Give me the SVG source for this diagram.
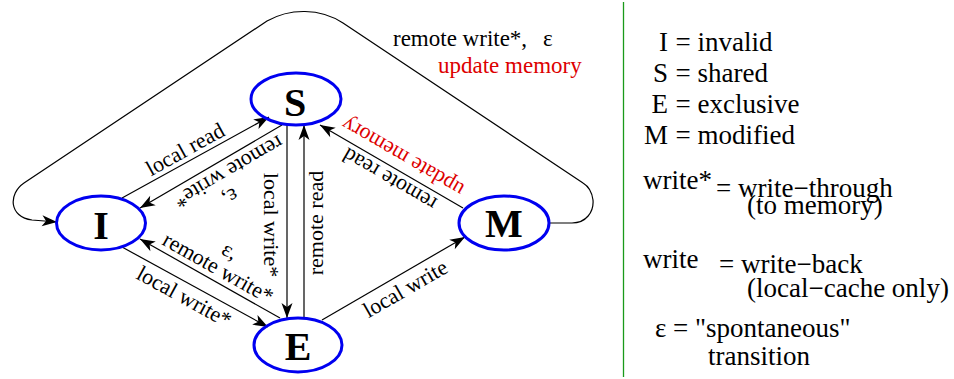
<svg xmlns="http://www.w3.org/2000/svg" width="954" height="379" viewBox="0 0 954 379">
  <style>
    text { font-family: "Liberation Serif", "Times New Roman", serif; fill: #000; }
    .state { fill: none; stroke: #0000f0; stroke-width: 3; }
    .name { font-size: 40px; font-weight: bold; text-anchor: middle; }
    .edge { fill: none; stroke: #000; stroke-width: 1.2; }
    .arr { marker-end: url(#head); }
    .lbl { font-size: 22px; text-anchor: middle; }
    .top { font-size: 23px; }
    .red { fill: #dd0000; }
    .key { font-size: 27px; }
    .keyL { font-size: 27px; text-anchor: end; }
  </style>
  <defs>
    <marker id="head" markerUnits="userSpaceOnUse" markerWidth="16" markerHeight="12" viewBox="-16 -6 16 12" refX="0" refY="0" orient="auto">
      <path d="M0,0 L-15,-5.5 L-11,0 L-15,5.5 Z" fill="#000"/>
    </marker>
  </defs>

  <rect width="954" height="379" fill="#fff"/>

  <!-- transitions -->
  <g id="connectors">
    <!-- M back to I around the outside -->
    <path class="edge arr" d="M549,223 L572,223 C586,223 594,212 593,200 C592,192 588,186 583,183 L343,23 C320,8 290,8 267,21 L24,183 C8,194 9,217 32,220 L57,222"/>
    <path class="edge arr" d="M122,198 L269,117"/>
    <path class="edge arr" d="M282,125 L140,208"/>
    <path class="edge arr" d="M287,125 L287,318"/>
    <path class="edge arr" d="M304,318 L304,125"/>
    <path class="edge arr" d="M122,247 L268,327"/>
    <path class="edge arr" d="M280,318 L140,239"/>
    <path class="edge arr" d="M322,320 L465,237"/>
    <path class="edge arr" d="M463,208 L320,125"/>
  </g>

  <!-- transition labels -->
  <g id="labels">
    <text class="top" x="393" y="46">remote write*,</text>
    <text class="top" x="543" y="46">ε</text>
    <text class="top red" x="438" y="73">update memory</text>

    <g transform="translate(191,160) rotate(-28.85)">
      <text class="lbl" x="0" y="-5">local read</text>
    </g>
    <g transform="translate(222,160.5) rotate(149.7)">
      <text class="lbl" x="11" y="-29">ε,</text>
      <text class="lbl" x="0" y="-6">remote write*</text>
    </g>
    <g transform="translate(211.6,279.4) rotate(29.4)">
      <text class="lbl" x="2" y="-27">ε,</text>
      <text class="lbl" x="0" y="-6">remote write*</text>
    </g>
    <g transform="translate(190.8,284.6) rotate(28.7)">
      <text class="lbl" x="0" y="21">local write*</text>
    </g>
    <g transform="translate(287,225) rotate(90)">
      <text class="lbl" x="0" y="23">local write*</text>
    </g>
    <g transform="translate(304,223) rotate(-90)">
      <text class="lbl" x="0" y="19">remote read</text>
    </g>
    <g transform="translate(397.9,275.9) rotate(-30.1)">
      <text class="lbl" x="0" y="22">local write</text>
    </g>
    <g transform="translate(395.7,169.1) rotate(-149.9)">
      <text class="lbl" x="0" y="-5">remote read</text>
      <text class="lbl red" x="0" y="21">update memory</text>
    </g>
  </g>

  <!-- states -->
  <g id="node-S">
    <ellipse class="state" cx="296" cy="99" rx="45" ry="26"/>
    <text class="name" x="295" y="116">S</text>
  </g>
  <g id="node-I">
    <ellipse class="state" cx="101" cy="223" rx="44.5" ry="27"/>
    <text class="name" x="101" y="239">I</text>
  </g>
  <g id="node-E">
    <ellipse class="state" cx="298" cy="345" rx="44" ry="27"/>
    <text class="name" x="298" y="360">E</text>
  </g>
  <g id="node-M">
    <ellipse class="state" cx="504" cy="223" rx="45" ry="27"/>
    <text class="name" x="504" y="237">M</text>
  </g>

  <!-- divider and key -->
  <line x1="623.5" y1="2" x2="623.5" y2="377" stroke="#1a9a1a" stroke-width="1.3"/>
  <g id="legend">
    <text class="keyL" x="668" y="51">I</text>
    <text class="key" x="675.5" y="51">= invalid</text>
    <text class="keyL" x="668" y="82">S</text>
    <text class="key" x="675.5" y="82">= shared</text>
    <text class="keyL" x="668" y="113">E</text>
    <text class="key" x="675.5" y="113">= exclusive</text>
    <text class="keyL" x="668" y="144">M</text>
    <text class="key" x="675.5" y="144">= modified</text>

    <text class="key" x="643" y="189">write*</text>
    <text class="key" x="716" y="197">= write−through</text>
    <text class="key" x="747" y="214">(to memory)</text>

    <text class="key" x="643" y="268">write</text>
    <text class="key" x="719" y="273">= write−back</text>
    <text class="key" x="747" y="297">(local−cache only)</text>

    <text class="key" x="655" y="337">ε = "spontaneous"</text>
    <text class="key" x="708" y="365">transition</text>
  </g>
</svg>
